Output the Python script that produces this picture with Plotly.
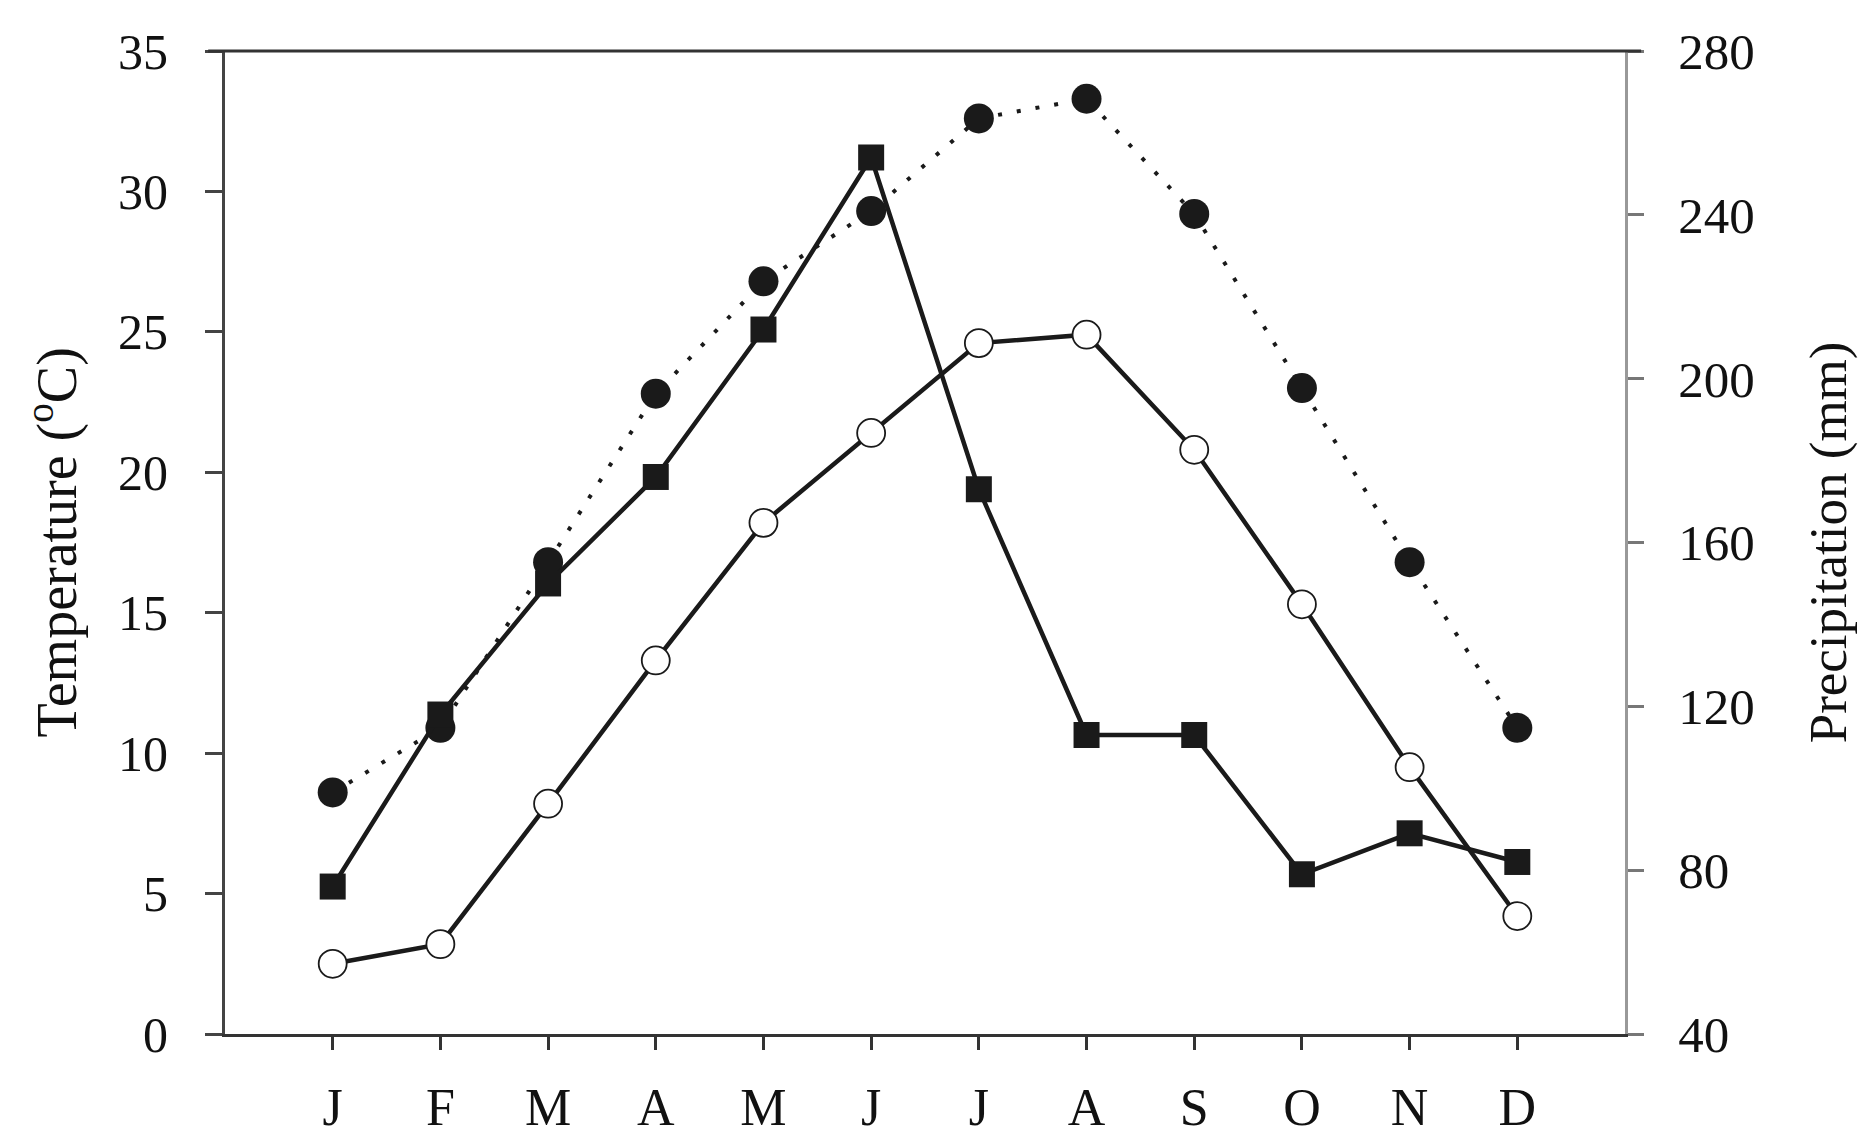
import plotly.graph_objects as go

months = ["J", "F", "M", "A", "M", "J", "J", "A", "S", "O", "N", "D"]
month_idx = list(range(12))
t_max = [8.6, 10.9, 16.8, 22.8, 26.8, 29.3, 32.6, 33.3, 29.2, 23.0, 16.8, 10.9]
t_min = [2.5, 3.2, 8.2, 13.3, 18.2, 21.4, 24.6, 24.9, 20.8, 15.3, 9.5, 4.2]
precip = [76, 118, 150, 176, 212, 254, 173, 113, 113, 79, 89, 82]

temp_ticks = [0, 5, 10, 15, 20, 25, 30, 35]
precip_ticks = [40, 80, 120, 160, 200, 240, 280]

INK = "#1a1a1a"
FONT = "Liberation Serif, Times New Roman, serif"

fig = go.Figure()
fig.add_trace(go.Scatter(
    x=month_idx, y=t_max, mode="lines+markers", name="Tmax",
    line=dict(color=INK, width=4, dash="4px,15px"),
    marker=dict(symbol="circle", size=30, color=INK, line=dict(width=0)),
))
fig.add_trace(go.Scatter(
    x=month_idx, y=t_min, mode="lines+markers", name="Tmin",
    line=dict(color=INK, width=4.5),
    marker=dict(symbol="circle", size=28, color="white", line=dict(color=INK, width=1.8)),
))
fig.add_trace(go.Scatter(
    x=month_idx, y=precip, mode="lines+markers", name="Precipitation", yaxis="y2",
    line=dict(color=INK, width=4.5),
    marker=dict(symbol="square", size=26, color=INK, line=dict(width=0)),
))

fig.update_layout(
    width=1874, height=1143,
    margin=dict(l=217, r=257, t=43, b=117),
    paper_bgcolor="white", plot_bgcolor="white",
    showlegend=False,
    font=dict(family=FONT, color="#111111"),
    xaxis=dict(
        range=[-1, 12], tickmode="array", tickvals=month_idx, ticktext=months,
        showgrid=False, zeroline=False,
        showline=True, linecolor="#333333", linewidth=3,
        ticks="outside", ticklen=13, tickwidth=2.5, tickcolor="#333333",
        tickfont=dict(family=FONT, size=52, color="#111111"),
        ticklabelstandoff=13,
    ),
    yaxis=dict(
        range=[0, 35], tickmode="array", tickvals=temp_ticks,
        showgrid=False, zeroline=False,
        showline=True, linecolor="#444444", linewidth=3, mirror=False,
        ticks="outside", ticklen=17, tickwidth=2.5, tickcolor="#444444",
        tickfont=dict(family=FONT, size=50, color="#111111"),
        ticklabelstandoff=27,
    ),
    yaxis2=dict(
        range=[40, 280], tickmode="array", tickvals=precip_ticks,
        overlaying="y", side="right",
        showgrid=False, zeroline=False,
        showline=True, linecolor="#999999", linewidth=3,
        ticks="outside", ticklen=16, tickwidth=2.5, tickcolor="#777777",
        tickfont=dict(family=FONT, size=51, color="#111111"),
        ticklabelstandoff=24,
    ),
    annotations=[
        dict(text="Temperature (<sup>o</sup>C)", xref="paper", yref="paper",
             x=-0.1228, y=0.5, xanchor="center", yanchor="middle",
             textangle=-90, showarrow=False,
             font=dict(family=FONT, size=56, color="#111111")),
        dict(text="Precipitation (mm)", xref="paper", yref="paper",
             x=1.1456, y=0.5, xanchor="center", yanchor="middle",
             textangle=-90, showarrow=False,
             font=dict(family=FONT, size=53, color="#111111")),
    ],
    shapes=[
        dict(type="line", xref="paper", yref="paper", x0=-0.012, x1=1.0115, y0=1, y1=1,
             line=dict(color="#333333", width=3)),
    ],
)

fig.write_html("out.html")
